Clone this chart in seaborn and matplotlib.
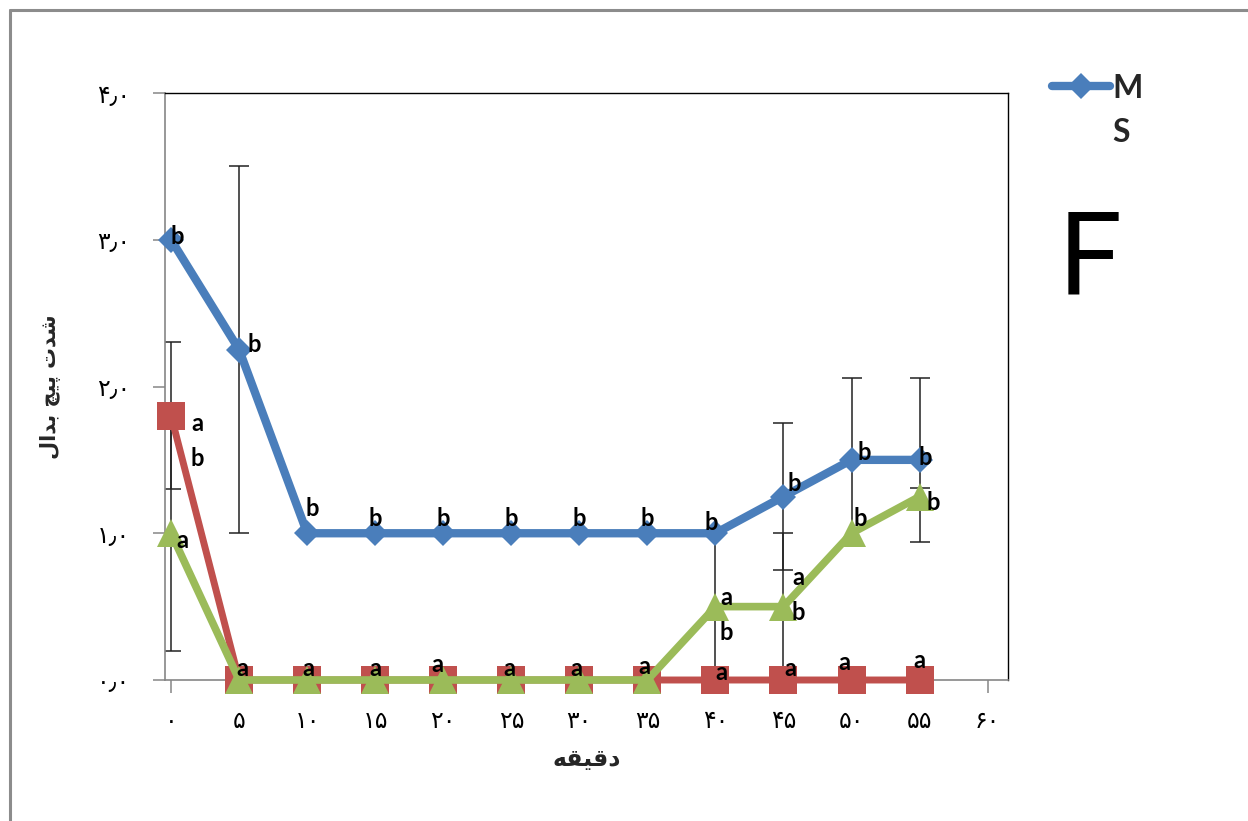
import numpy as np
import pandas as pd
import seaborn as sns
import matplotlib.pyplot as plt
from matplotlib.lines import Line2D

# ---- data ----
minutes = [0, 5, 10, 15, 20, 25, 30, 35, 40, 45, 50, 55]

ms_vals = [3.0, 2.25, 1.0, 1.0, 1.0, 1.0, 1.0, 1.0, 1.0, 1.25, 1.5, 1.5]
ms_err = [0, 1.25, 0, 0, 0, 0, 0, 0, 0, 0.5, 0.56, 0.56]

red_vals = [1.8, 0, 0, 0, 0, 0, 0, 0, 0, 0, 0, 0]
red_err = [0.5, 0, 0, 0, 0, 0, 0, 0, 0, 0, 0, 0]

green_vals = [1.0, 0, 0, 0, 0, 0, 0, 0, 0.5, 0.5, 1.0, 1.25]
green_err = [0.8, 0, 0, 0, 0, 0, 0, 0, 0.5, 0.5, 0, 0.06]

# significance letters per point
ms_sig = ["b"] * 12
red_sig = ["ab"] + ["a"] * 11
green_sig = ["a", "", "", "", "", "", "", "", "ab", "ab", "b", "b"]

x_ticks = [0, 5, 10, 15, 20, 25, 30, 35, 40, 45, 50, 55, 60]
y_ticks = [0, 1, 2, 3, 4]

legend_label = "MS"
panel_letter = "F"

# ---- label placement (pixel offsets of first letter from the point) ----
ms_off = [(6, -3), (15, -5), (5, -25), (0, -15), (0, -15), (0, -15), (0, -15),
          (0, -15), (-4, -11), (11, -13), (13, -7), (6, -2)]
red_off = [(26, 8), (3, -12), (1, -12), (0, -12), (-6, -16), (-2, -12), (-3, -12),
           (-3, -14), (6, -8), (7, -12), (-7, -18), (0, -20)]
green_off = [(11, 7), None, None, None, None, None, None, None,
             (11, -9), (15, -29), (9, -15), (14, 6)]
STACK_GAP = 35

FA_DIGITS = str.maketrans("0123456789", "۰۱۲۳۴۵۶۷۸۹")


def fa(s):
    return str(s).translate(FA_DIGITS)


# Arabic-script strings in visual (left-to-right drawn) order with shaped forms
xlabel_txt = "\uFEEA\uFED8\uFEF4\uFED7\uFEA9"                      # دقیقه
ylabel_txt = ("\uFEDD\uFE8D\uFEAA\uFE91 "                            # بدال
              "\uFB7B\uFEF4\uFB58 "                                  # پیچ
              "\uFE95\uFEAA\uFEB7")                                  # شدت

BLUE = "#4A7EBB"
RED = "#C0504D"
GREEN = "#9BBB59"
LETTER_FONT = ["Lato", "DejaVu Sans"]

sns.set_theme(style="white")
plt.rcParams["font.family"] = ["DejaVu Sans"]

fig = plt.figure(figsize=(12.48, 8.21), dpi=100)
W, H = 1248, 821
ax = fig.add_axes([165 / W, 1 - 680 / H, (1008 - 165) / W, (680 - 93) / H])

df = pd.DataFrame({"minute": minutes, "ms": ms_vals, "red": red_vals,
                   "green": green_vals})


def draw_err(vals, errs):
    xs = [m for m, e in zip(minutes, errs) if e > 0]
    ys = [v for v, e in zip(vals, errs) if e > 0]
    es = [e for e in errs if e > 0]
    ax.errorbar(xs, ys, yerr=es, fmt="none", ecolor="#222222",
                elinewidth=1.1, capsize=7, capthick=1.1, zorder=1)


draw_err(ms_vals, ms_err)
draw_err(red_vals, red_err)
draw_err(green_vals, green_err)

sns.lineplot(data=df, x="minute", y="ms", ax=ax, color=BLUE, linewidth=6,
             marker="D", markersize=13, markeredgewidth=0, zorder=3,
             estimator=None, clip_on=False)
sns.lineplot(data=df, x="minute", y="red", ax=ax, color=RED, linewidth=5,
             marker="s", markersize=20, markeredgewidth=0, zorder=4,
             estimator=None, clip_on=False)
sns.lineplot(data=df, x="minute", y="green", ax=ax, color=GREEN, linewidth=5.5,
             marker="^", markersize=20, markeredgewidth=0, zorder=5,
             estimator=None, clip_on=False)


def letters(vals, sig, offs):
    for m, v, s, o in zip(minutes, vals, sig, offs):
        if not s or o is None:
            continue
        for k, ch in enumerate(s):
            dx, dy = o[0], o[1] + k * STACK_GAP
            ax.annotate(ch, (m, v), xytext=(dx, -dy), textcoords="offset pixels",
                        ha="center", va="center", fontsize=17,
                        fontweight="bold", family=LETTER_FONT,
                        color="black", zorder=10, annotation_clip=False)


letters(ms_vals, ms_sig, ms_off)
letters(red_vals, red_sig, red_off)
letters(green_vals, green_sig, green_off)

ax.set_xlim(-0.45, 61.5)
ax.set_ylim(0, 4)
ax.set_xticks(x_ticks)
ax.set_xticklabels([fa(t) for t in x_ticks], fontsize=17)
ax.set_yticks(y_ticks)
ax.set_yticklabels([fa(t) + "\u066B" + fa(0) for t in y_ticks], fontsize=17)
ax.tick_params(axis="both", direction="out", length=9, width=1.1,
               color="#868686", labelcolor="black", left=True, bottom=True)
ax.tick_params(axis="x", pad=12)
ax.tick_params(axis="y", pad=16)

ax.set_xlabel(xlabel_txt, fontsize=17, fontweight="bold", labelpad=10)
ax.set_ylabel(ylabel_txt, fontsize=15, fontweight="bold", labelpad=26)

for side in ("left", "bottom"):
    ax.spines[side].set_color("#868686")
    ax.spines[side].set_linewidth(1.2)
for side in ("top", "right"):
    ax.spines[side].set_color("black")
    ax.spines[side].set_linewidth(1.0)
ax.grid(False)

# legend (only the first series is shown, its name wraps onto two lines)
handle = Line2D([], [], color=BLUE, linewidth=6, marker="D", markersize=13,
                markeredgewidth=0, solid_capstyle="round")
fig.legend([handle], [legend_label[0]], loc="center left",
           bbox_to_anchor=(1052 / W, 1 - 88 / H), frameon=False,
           handlelength=1.8, handletextpad=0.1, borderpad=0, borderaxespad=0,
           prop={"family": LETTER_FONT, "weight": "bold", "size": 23})
fig.text(1121 / W, 1 - 133 / H, legend_label[1], ha="center", va="center",
         fontsize=23, fontweight="bold", family=LETTER_FONT)

fig.text(1090 / W, 1 - 262 / H, panel_letter, ha="center", va="center",
         fontsize=82, family=LETTER_FONT, color="black")

# outer frame
fig.add_artist(Line2D([10 / W, 10 / W], [0, 1 - 10 / H], transform=fig.transFigure,
                      color="#8c8c8c", linewidth=2.2))
fig.add_artist(Line2D([10 / W, 1], [1 - 10 / H, 1 - 10 / H], transform=fig.transFigure,
                      color="#8c8c8c", linewidth=2.2))

fig.savefig("out.png", dpi=100, facecolor="white")
